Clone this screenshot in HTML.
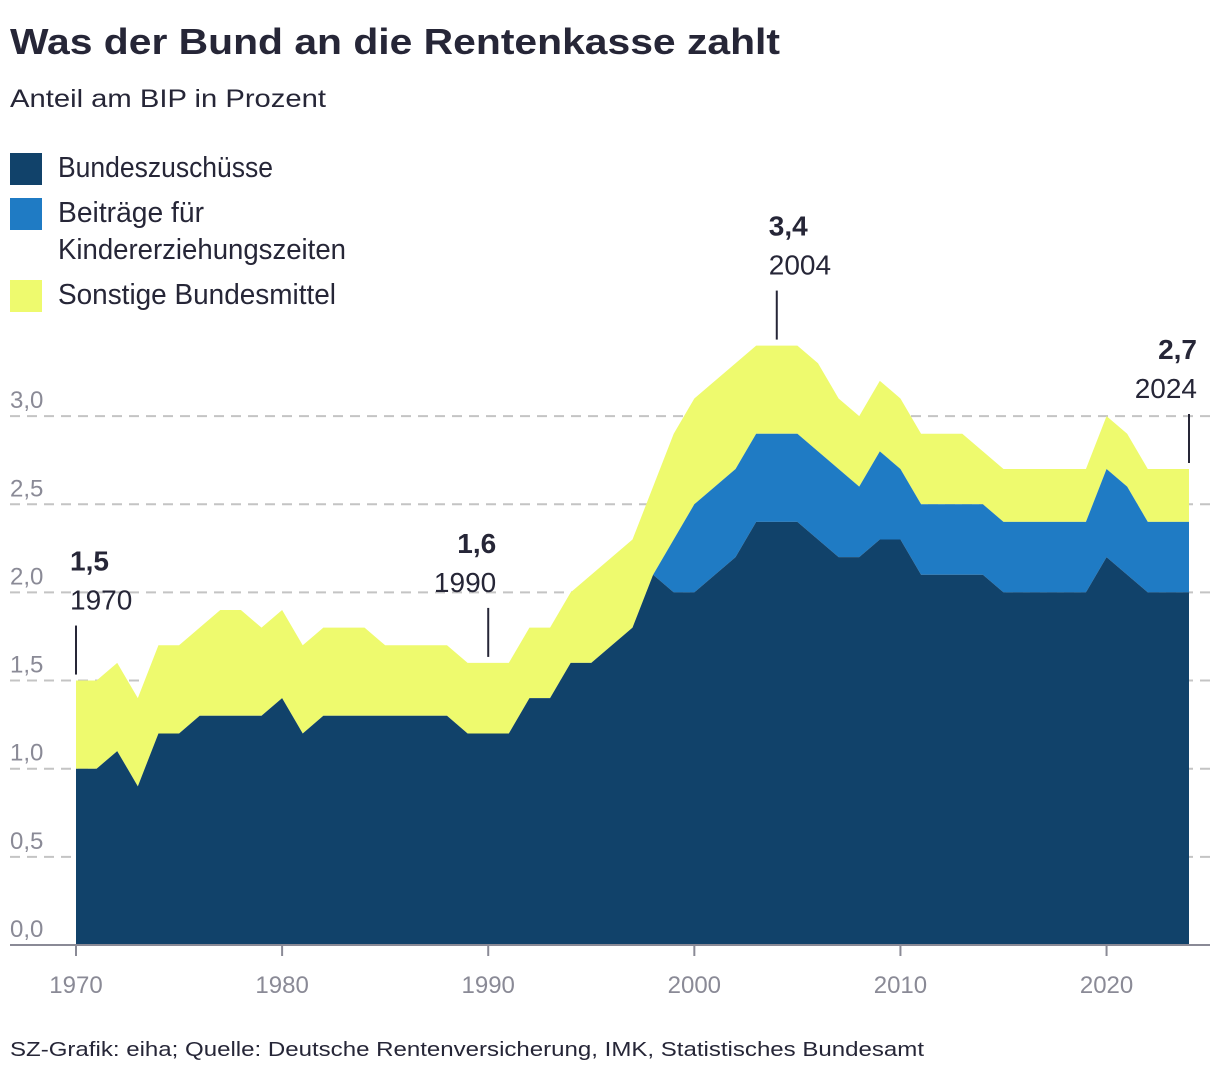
<!DOCTYPE html>
<html><head><meta charset="utf-8"><style>
html,body{margin:0;padding:0;background:#fff;}
svg{display:block;font-family:"Liberation Sans",sans-serif;}
</style></head><body>
<svg id="chart" width="1220" height="1076" viewBox="0 0 1220 1076" xmlns="http://www.w3.org/2000/svg">
<text x="10" y="54" font-size="36" font-weight="bold" fill="#262637" textLength="770" lengthAdjust="spacingAndGlyphs">Was der Bund an die Rentenkasse zahlt</text>
<text x="10" y="107" font-size="25" fill="#262637" textLength="316" lengthAdjust="spacingAndGlyphs">Anteil am BIP in Prozent</text>
<g>
<rect x="10" y="153" width="32" height="32" fill="#11426a"/>
<text x="58" y="177" font-size="29" fill="#262637" textLength="215" lengthAdjust="spacingAndGlyphs">Bundeszuschüsse</text>
<rect x="10" y="198" width="32" height="32" fill="#1f7bc4"/>
<text x="58" y="222" font-size="29" fill="#262637" textLength="146" lengthAdjust="spacingAndGlyphs">Beiträge für</text>
<text x="58" y="259" font-size="29" fill="#262637" textLength="288" lengthAdjust="spacingAndGlyphs">Kindererziehungszeiten</text>
<rect x="10" y="280" width="32" height="32" fill="#eefa6e"/>
<text x="58" y="304" font-size="29" fill="#262637" textLength="278" lengthAdjust="spacingAndGlyphs">Sonstige Bundesmittel</text>
</g>
<g id="grid"></g>
<g id="areas"></g>
<g id="axis"></g>
<g id="annot"></g>
<text x="10" y="1056" font-size="20" fill="#262637" textLength="914" lengthAdjust="spacingAndGlyphs">SZ-Grafik: eiha; Quelle: Deutsche Rentenversicherung, IMK, Statistisches Bundesamt</text>
</svg>
<script>
const years = [];
for (let y = 1970; y <= 2024; y++) years.push(y);
const bundeszuschuesse = [1.0,1.0,1.1,0.9,1.2,1.2,1.3,1.3,1.3,1.3,1.4,1.2,1.3,1.3,1.3,1.3,1.3,1.3,1.3,1.2,1.2,1.2,1.4,1.4,1.6,1.6,1.7,1.8,2.1,2.0,2.0,2.1,2.2,2.4,2.4,2.4,2.3,2.2,2.2,2.3,2.3,2.1,2.1,2.1,2.1,2.0,2.0,2.0,2.0,2.0,2.2,2.1,2.0,2.0,2.0];
const kindererziehung = [0,0,0,0,0,0,0,0,0,0,0,0,0,0,0,0,0,0,0,0,0,0,0,0,0,0,0,0,0,0.3,0.5,0.5,0.5,0.5,0.5,0.5,0.5,0.5,0.4,0.5,0.4,0.4,0.4,0.4,0.4,0.4,0.4,0.4,0.4,0.4,0.5,0.5,0.4,0.4,0.4];
const gesamt = [1.5,1.5,1.6,1.4,1.7,1.7,1.8,1.9,1.9,1.8,1.9,1.7,1.8,1.8,1.8,1.7,1.7,1.7,1.7,1.6,1.6,1.6,1.8,1.8,2.0,2.1,2.2,2.3,2.6,2.9,3.1,3.2,3.3,3.4,3.4,3.4,3.3,3.1,3.0,3.2,3.1,2.9,2.9,2.9,2.8,2.7,2.7,2.7,2.7,2.7,3.0,2.9,2.7,2.7,2.7];
const yTicks = [0,0.5,1.0,1.5,2.0,2.5,3.0];
const yTickLabels = ["0,0","0,5","1,0","1,5","2,0","2,5","3,0"];
const xTicks = [1970,1980,1990,2000,2010,2020];
const annotYears = [1970,1990,2004,2024];
const annotValues = ["1,5","1,6","3,4","2,7"];

const NS = "http://www.w3.org/2000/svg";
const xs = y => 76 + (y - 1970) * (1189 - 76) / 54;
const ys = v => 945 - v * 176.3;
function mk(tag, attrs, parent, txt) {
  const e = document.createElementNS(NS, tag);
  for (const k in attrs) e.setAttribute(k, attrs[k]);
  if (txt !== undefined) e.textContent = txt;
  parent.appendChild(e);
  return e;
}
const grid = document.getElementById('grid');
yTicks.forEach((t, i) => {
  if (t > 0) {
    const l = mk('line', {x1: 10, x2: 1210, y1: ys(t), y2: ys(t), stroke: '#c4c4c4', 'stroke-width': 2, 'stroke-dasharray': '10,7'}, grid);
    
    
  }
  const tx = mk('text', {x: 10, y: ys(t) - 8, 'font-size': 24, fill: '#8a8a96'}, grid, yTickLabels[i]);
  
  
});
const areas = document.getElementById('areas');
function band(lower, upper, color, name) {
  let d = '';
  years.forEach((y, i) => { d += (i ? 'L' : 'M') + xs(y).toFixed(2) + ',' + ys(upper[i]).toFixed(2); });
  for (let i = years.length - 1; i >= 0; i--) d += 'L' + xs(years[i]).toFixed(2) + ',' + ys(lower[i]).toFixed(2);
  const p = mk('path', {d: d + 'Z', fill: color}, areas);
  
  
}
const zero = years.map(() => 0);
const top2 = bundeszuschuesse.map((v, i) => v + kindererziehung[i]);
band(top2, gesamt, '#eefa6e', 'area-sonstige-bundesmittel');
band(bundeszuschuesse, top2, '#1f7bc4', 'area-kindererziehungszeiten');
band(zero, bundeszuschuesse, '#11426a', 'area-bundeszuschuesse');
const axis = document.getElementById('axis');
const ax = mk('line', {x1: 10, x2: 1210, y1: 945, y2: 945, stroke: '#8a8a96', 'stroke-width': 2}, axis);


xTicks.forEach(t => {
  const l = mk('line', {x1: xs(t), x2: xs(t), y1: 945, y2: 956, stroke: '#8a8a96', 'stroke-width': 2}, axis);
  
  
  const tx = mk('text', {x: xs(t), y: 993, 'font-size': 24, fill: '#8a8a96', 'text-anchor': 'middle'}, axis, String(t));
  
  
});
const annot = document.getElementById('annot');
annotYears.forEach((yr, i) => {
  const idx = yr - 1970;
  const x = xs(yr);
  const topY = ys(gesamt[idx]);
  const l = mk('line', {x1: x, x2: x, y1: topY - 55, y2: topY - 6, stroke: '#262637', 'stroke-width': 2}, annot);
  
  
  let anchor = 'start', tx = x - 6;
  if (yr === 1990 || yr === 2024) { anchor = 'end'; tx = x + 8; }
  if (yr === 2004) tx = x - 8;
  const v = mk('text', {x: tx, y: topY - 110, 'font-size': 28, 'font-weight': 'bold', fill: '#262637', 'text-anchor': anchor}, annot, annotValues[i]);
  
  
  const t = mk('text', {x: tx, y: topY - 71, 'font-size': 28, fill: '#262637', 'text-anchor': anchor}, annot, String(yr));
  
  
});
</script>
</body></html>
